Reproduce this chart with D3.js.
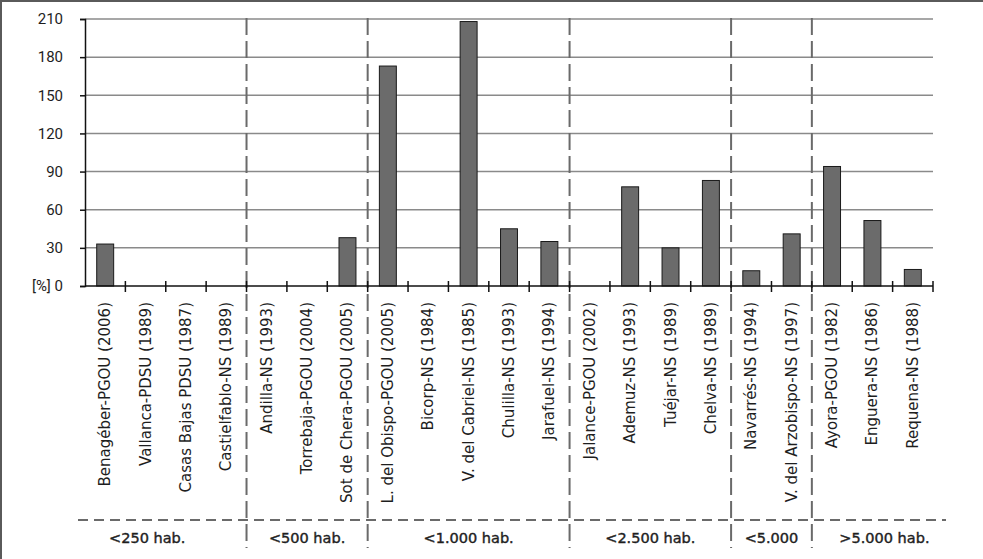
<!DOCTYPE html>
<html>
<head>
<meta charset="utf-8">
<script src="https://cdn.jsdelivr.net/npm/d3@7"></script>
<style>
  body { margin: 0; background: #fff; }
  text { font-family: Roboto, "DejaVu Sans", sans-serif; fill: #1e1e1e; }
</style>
</head>
<body>
<div id="chart"></div>
<script>
// plans (municipio - figura (año))
const categories = [
  'Benagéber-PGOU (2006)', 'Vallanca-PDSU (1989)', 'Casas Bajas PDSU (1987)', 'Castielfablo-NS (1989)',
  'Andilla-NS (1993)', 'Torrebaja-PGOU (2004)', 'Sot de Chera-PGOU (2005)',
  'L. del Obispo-PGOU (2005)', 'Bicorp-NS (1984)', 'V. del Cabriel-NS (1985)', 'Chulilla-NS (1993)', 'Jarafuel-NS (1994)',
  'Jalance-PGOU (2002)', 'Ademuz-NS (1993)', 'Tuéjar-NS (1989)', 'Chelva-NS (1989)',
  'Navarrés-NS (1994)', 'V. del Arzobispo-NS (1997)',
  'Ayora-PGOU (1982)', 'Enguera-NS (1986)', 'Requena-NS (1988)'
];
const values = [33, 0, 0, 0, 0, 0, 38, 173, 0, 208, 45, 35, 0, 78, 30, 83, 12, 41, 94, 51.5, 13];
const groupLabels = ['<250 hab.', '<500 hab.', '<1.000 hab.', '<2.500 hab.', '<5.000', '>5.000 hab.'];
const groupSizes = [4, 3, 5, 4, 2, 3];
const yTicks = [0, 30, 60, 90, 120, 150, 180, 210];

const W = 983, H = 559;
const plotLeft = 85, plotRight = 933, plotTop = 19, plotBottom = 286;

const svg = d3.select('#chart').append('svg').attr('width', W).attr('height', H);
svg.append('rect').attr('width', W).attr('height', H).attr('fill', '#fff');

// frame (top + left only)
svg.append('line').attr('x1', 0).attr('x2', W).attr('y1', 1).attr('y2', 1)
  .attr('stroke', '#5a5a5a').attr('stroke-width', 2);
svg.append('line').attr('x1', 1).attr('x2', 1).attr('y1', 0).attr('y2', H)
  .attr('stroke', '#5a5a5a').attr('stroke-width', 2);

const x = d3.scaleBand().domain(categories).range([plotLeft, plotRight]).paddingInner(0.58).paddingOuter(0.29);
const y = d3.scaleLinear().domain([0, 210]).range([plotBottom, plotTop]);
const step = x.step();

// gridlines
svg.append('g').selectAll('line').data(yTicks.filter((d) => d > 0)).enter().append('line')
  .attr('x1', plotLeft).attr('x2', plotRight)
  .attr('y1', (d) => y(d)).attr('y2', (d) => y(d))
  .attr('stroke', '#8a8a8a').attr('stroke-width', 1.5);

// group boundaries
let acc = 0;
const bounds = [];
groupSizes.forEach((n) => { acc += n; bounds.push(acc); });
const innerBounds = bounds.slice(0, -1);

svg.append('g').selectAll('line').data(innerBounds).enter().append('line')
  .attr('x1', (d) => plotLeft + d * step).attr('x2', (d) => plotLeft + d * step)
  .attr('y1', 18).attr('y2', 548)
  .attr('stroke', '#6a6a6a').attr('stroke-width', 2).attr('stroke-dasharray', '17,6');

svg.append('line').attr('x1', 78).attr('x2', 946).attr('y1', 520).attr('y2', 520)
  .attr('stroke', '#6a6a6a').attr('stroke-width', 2).attr('stroke-dasharray', '10,6');

// bars
svg.append('g').selectAll('rect').data(categories).enter().append('rect')
  .attr('x', (d) => x(d))
  .attr('width', x.bandwidth())
  .attr('y', (d, i) => y(values[i]))
  .attr('height', (d, i) => y(0) - y(values[i]))
  .attr('fill', '#6b6b6b')
  .attr('stroke', '#1a1a1a')
  .attr('stroke-width', 1)
  .style('display', (d, i) => values[i] > 0 ? null : 'none');

// y axis
const yAxis = d3.axisLeft(y).tickValues(yTicks).tickSize(5).tickPadding(17)
  .tickFormat((d) => d === 0 ? '[%] 0' : d);
const gy = svg.append('g').attr('transform', `translate(${plotLeft},0)`).call(yAxis);
gy.select('.domain').attr('stroke', '#111').attr('stroke-width', 1.5);
gy.selectAll('.tick line').attr('stroke', '#111').attr('stroke-width', 1.5);
gy.selectAll('.tick text').style('font-size', '15px').attr('fill', '#1e1e1e');

// x axis line + boundary ticks
svg.append('line').attr('x1', plotLeft).attr('x2', plotRight).attr('y1', plotBottom).attr('y2', plotBottom)
  .attr('stroke', '#111').attr('stroke-width', 1.5);
svg.append('g').selectAll('line').data(d3.range(1, categories.length + 1)).enter().append('line')
  .attr('x1', (d) => plotLeft + d * step).attr('x2', (d) => plotLeft + d * step)
  .attr('y1', plotBottom - 5).attr('y2', plotBottom + 6)
  .attr('stroke', '#111').attr('stroke-width', 1.5);

// category labels
svg.append('g').selectAll('text').data(categories).enter().append('text')
  .attr('transform', (d) => `translate(${x(d) + x.bandwidth() / 2 + 5},302) rotate(-90)`)
  .attr('text-anchor', 'end')
  .style('font-family', '"DejaVu Sans", sans-serif')
  .style('font-size', '15px')
  .text((d) => d);

// group labels
const tableLeft = 48, tableRight = 957;
svg.append('g').selectAll('text').data(groupLabels).enter().append('text')
  .attr('x', (d, i) => {
    const a = i === 0 ? tableLeft : plotLeft + (bounds[i - 1]) * step;
    const b = i === groupLabels.length - 1 ? tableRight : plotLeft + bounds[i] * step;
    return (a + b) / 2;
  })
  .attr('y', 543)
  .attr('text-anchor', 'middle')
  .style('font-family', '"DejaVu Sans", sans-serif')
  .style('font-size', '14.5px')
  .attr('stroke', '#1e1e1e')
  .attr('stroke-width', 0.4)
  .text((d) => d);
</script>
</body>
</html>
